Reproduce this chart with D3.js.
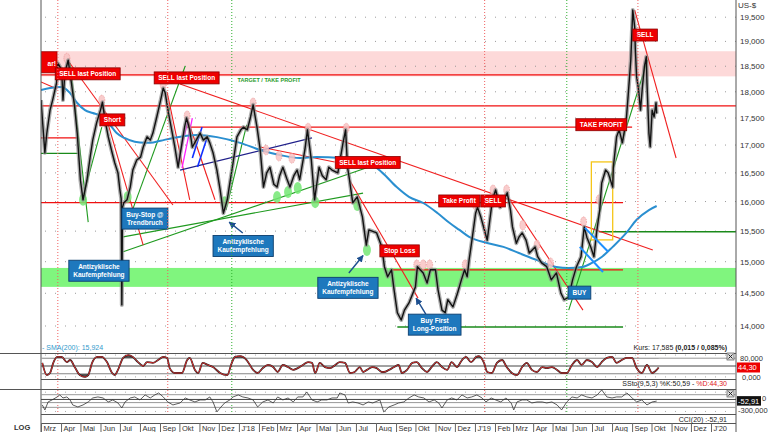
<!DOCTYPE html>
<html><head><meta charset="utf-8">
<script src="https://cdn.jsdelivr.net/npm/d3@7"></script>
<style>body{margin:0;background:#fff;}svg{display:block;font-family:"Liberation Sans",Arial,sans-serif;}</style>
</head><body><svg id="c" width="768" height="432"></svg>
<script>
// ---------- DATA ----------
const priceData = [
["2017-03-01",17840],["2017-03-07",16860],["2017-03-10",17220],["2017-03-15",17650],["2017-03-19",17840],["2017-03-25",18170],["2017-03-27",18560],["2017-04-02",18430],["2017-04-04",17840],["2017-04-07",18370],["2017-04-12",18620],["2017-04-17",18170],["2017-04-22",17710],["2017-04-26",17220],["2017-05-01",16370],["2017-05-05",16030],["2017-05-11",16370],["2017-05-16",16780],["2017-05-20",17090],["2017-05-26",17410],["2017-06-01",17650],["2017-06-04",17800],["2017-06-08",17460],["2017-06-13",17150],["2017-06-19",16860],["2017-06-23",16680],["2017-06-28",16500],["2017-07-01",16200],["2017-07-03",16050],["2017-07-04",14320],["2017-07-05",15900],["2017-07-07",15980],["2017-07-12",16030],["2017-07-17",16250],["2017-07-21",16550],["2017-07-27",16730],["2017-08-02",16780],["2017-08-06",16960],["2017-08-12",17150],["2017-08-17",17090],["2017-08-21",17220],["2017-08-27",17520],["2017-09-02",17840],["2017-09-06",18070],["2017-09-09",17980],["2017-09-14",17600],["2017-09-20",17220],["2017-09-24",16960],["2017-09-29",16600],["2017-10-05",17040],["2017-10-09",17330],["2017-10-12",17500],["2017-10-17",17280],["2017-10-21",16960],["2017-10-27",17090],["2017-11-02",17220],["2017-11-07",17090],["2017-11-13",17150],["2017-11-17",17040],["2017-11-22",16860],["2017-11-28",16550],["2017-12-03",16200],["2017-12-08",15800],["2017-12-14",16030],["2017-12-18",16320],["2017-12-23",16680],["2017-12-29",17150],["2018-01-04",17280],["2018-01-08",17330],["2018-01-14",17280],["2018-01-19",17520],["2018-01-23",17750],["2018-01-29",17330],["2018-02-03",16910],["2018-02-08",16250],["2018-02-13",16500],["2018-02-18",16600],["2018-02-24",16300],["2018-03-01",16250],["2018-03-05",16450],["2018-03-10",16600],["2018-03-16",16400],["2018-03-21",16250],["2018-03-27",16450],["2018-04-01",16550],["2018-04-05",16380],["2018-04-13",16910],["2018-04-17",17280],["2018-04-23",16730],["2018-04-28",16030],["2018-05-05",16600],["2018-05-10",16450],["2018-05-16",16380],["2018-05-20",16600],["2018-05-25",16550],["2018-06-03",16500],["2018-06-11",17040],["2018-06-15",17280],["2018-06-18",16600],["2018-06-21",16380],["2018-06-26",15980],["2018-07-03",16080],["2018-07-11",15740],["2018-07-17",15270],["2018-07-21",15520],["2018-08-02",15470],["2018-08-10",15240],["2018-08-14",14920],["2018-08-19",14760],["2018-08-25",14870],["2018-08-29",14550],["2018-09-03",14200],["2018-09-09",14090],["2018-09-14",14240],["2018-09-21",14350],["2018-10-01",14600],["2018-10-04",14920],["2018-10-13",14820],["2018-10-19",14660],["2018-10-24",14870],["2018-11-01",14870],["2018-11-05",14550],["2018-11-11",14240],["2018-11-16",14200],["2018-11-20",14400],["2018-11-28",14290],["2018-12-05",14500],["2018-12-11",14710],["2018-12-16",14870],["2018-12-20",14760],["2018-12-23",15030],["2018-12-28",15400],["2019-01-02",15800],["2019-01-05",15900],["2019-01-10",15740],["2019-01-20",15350],["2019-01-28",16030],["2019-02-02",16200],["2019-02-09",15900],["2019-02-20",16150],["2019-02-25",15850],["2019-02-28",15570],["2019-03-06",15300],["2019-03-10",15400],["2019-03-15",15470],["2019-03-21",15350],["2019-03-26",15140],["2019-04-04",15240],["2019-04-08",15080],["2019-04-14",14980],["2019-04-22",14920],["2019-04-29",14710],["2019-05-07",14820],["2019-05-14",14500],["2019-05-19",14400],["2019-05-26",14440],["2019-06-01",14710],["2019-06-07",14920],["2019-06-14",15080],["2019-06-19",15570],["2019-06-23",15400],["2019-06-29",15240],["2019-07-04",15080],["2019-07-08",15470],["2019-07-13",15860],["2019-07-16",16320],["2019-07-22",16550],["2019-07-26",16500],["2019-08-02",16250],["2019-08-03",16600],["2019-08-08",17150],["2019-08-12",17280],["2019-08-17",17040],["2019-08-23",17470],["2019-08-26",17940],["2019-08-30",18630],["2019-09-02",19650],["2019-09-05",19300],["2019-09-06",18830],["2019-09-08",18290],["2019-09-11",18040],["2019-09-14",17650],["2019-09-17",18100],["2019-09-20",18490],["2019-09-23",18690],["2019-09-24",18170],["2019-09-27",17220],["2019-09-29",16970],["2019-10-02",17650],["2019-10-05",17520],["2019-10-08",17790],["2019-10-09",17585]
];
const smaData = [
["2017-03-01",18035],["2017-03-15",18075],["2017-04-02",18095],["2017-04-15",17975],["2017-04-26",17785],["2017-05-08",17650],["2017-05-20",17595],["2017-06-01",17540],["2017-06-16",17370],["2017-06-26",17220],["2017-07-08",17130],["2017-07-24",17060],["2017-08-09",17040],["2017-08-17",17040],["2017-09-02",17080],["2017-09-21",17130],["2017-10-28",17185],["2017-11-28",17145],["2018-01-03",17040],["2018-02-03",16910],["2018-03-05",16820],["2018-04-05",16765],["2018-05-01",16785],["2018-06-07",16765],["2018-06-21",16730],["2018-07-21",16675],["2018-08-11",16500],["2018-09-02",16250],["2018-09-21",16080],["2018-10-13",15975],["2018-11-04",15805],["2018-11-23",15635],["2018-12-08",15520],["2018-12-23",15405],["2019-01-20",15305],["2019-02-14",15240],["2019-03-10",15140],["2019-04-07",15025],["2019-05-07",14915],["2019-05-26",14900],["2019-06-16",14915],["2019-07-01",14980],["2019-07-16",15075],["2019-08-02",15240],["2019-08-23",15470],["2019-09-08",15690],["2019-09-27",15855],["2019-10-09",15924]
];
const oscStart = "2017-03-01";
const stochDays = [2,9,14,19,25,32,40,45,53,60,68,73,79,87,94,102,110,114,119,127,135,142,150,158,164,173,181,189,195,199,207,218,226,230,238,243,250,258,266,277,288,295,300,308,318,328,335,343,351,359,366,374,382,390,397,405,413,419,424,431,439,447,455,462,470,478,485,493,498,504,512,519,527,530,538,546,553,558,566,574,581,589,597,604,612,620,628,635,643,651,657,665,673,677,685,690,697,705,713,720,728,736,744,751,759,767,775,782,790,798,805,813,821,829,836,844,852,860,867,875,883,890,898,906,914,921,929,937,945,952,955];
const stochVals = [62,15,23,62,85,85,65,73,42,15,8,15,62,85,85,65,23,15,35,81,92,85,65,50,65,62,73,85,81,42,23,23,73,81,35,23,62,54,46,23,15,62,85,88,73,35,23,42,54,46,27,54,46,35,42,54,65,62,23,62,46,42,54,65,62,23,27,46,27,35,46,42,27,27,35,46,54,23,35,62,65,42,27,46,65,46,35,65,46,73,85,65,85,88,62,27,23,62,73,46,23,15,46,62,35,27,46,42,46,35,23,23,54,73,54,73,65,46,65,81,85,62,73,81,81,42,23,54,23,35,44];
const cciDays = [2,6,11,17,25,29,34,40,45,49,57,65,73,80,88,96,104,111,119,125,130,138,145,153,161,169,176,182,189,196,204,215,223,230,238,246,254,261,266,272,277,284,292,297,305,312,320,328,335,343,351,359,366,374,382,390,397,405,411,419,427,434,442,450,458,462,470,475,482,490,498,506,513,524,529,530,538,546,553,561,569,577,584,592,600,608,615,620,628,635,643,651,659,666,674,682,688,696,703,711,719,727,731,736,744,751,759,767,775,782,790,798,805,813,821,829,836,844,852,860,867,875,883,890,898,906,914,921,929,937,945,952];
const cciVals = [-174,-332,-79,-16,79,142,47,79,-16,-174,-237,-174,-79,47,79,47,-79,-16,-111,-269,-79,47,79,-16,142,47,142,205,79,-79,-174,-111,47,-16,-79,-16,-16,79,-79,-395,-269,-111,-16,79,142,79,47,-16,-237,-79,-16,-111,79,-16,47,-79,79,79,237,-16,-79,-16,-16,47,47,205,142,-111,-79,-111,-174,-79,-111,-16,-332,-395,-237,-174,-111,-79,47,142,79,47,-79,-16,-111,-269,-16,47,-16,142,47,79,142,47,-79,47,-16,-79,47,-111,-332,-79,-16,-16,-111,-79,-79,-111,-79,-174,-332,-79,79,47,142,79,47,142,300,79,47,79,79,205,47,-79,-16,-174,-79,-53];

const priceTicks = [14000,14500,15000,15500,16000,16500,17000,17500,18000,18500,19000,19500];
const monthLabels = ["Mrz","Apr","Mai","Jun","Jul","Aug","Sep","Okt","Nov","Dez","J'18","Feb","Mrz","Apr","Mai","Jun","Jul","Aug","Sep","Okt","Nov","Dez","J'19","Feb","Mrz","Apr","Mai","Jun","Jul","Aug","Sep","Okt","Nov","Dez","J'20"];

const pinkZone = [18300,18800];
const greenZone = [14600,14900];
const redVertical = ["2017-03-27","2017-09-13","2019-01-16","2019-09-10"];
const greenVertical = ["2017-12-21","2019-05-23"];
const redHoriz = [["2017-03-01","2019-09-13",18330],["2017-03-01","2020-02-15",17730],["2017-10-13","2019-09-01",17330],["2017-03-01","2017-04-27",17130],["2017-03-01","2019-08-18",15980],["2018-08-25","2019-08-18",14870]];
const greenHoriz = [["2017-03-01","2017-04-27",16850],["2018-09-03","2019-08-18",13985],["2019-07-12","2020-02-15",15490]];
const redTrend = [["2017-03-01",18190,"2017-03-26",18055],["2017-04-11",18625,"2017-09-21",15940],["2017-06-03",17800,"2017-08-06",15270],["2017-09-12",17995,"2017-10-17",16030],["2017-10-13",17500,"2017-11-25",16030],["2017-10-02",18150,"2019-10-03",15190],["2018-02-03",16965,"2018-05-29",16695],["2018-06-21",16375,"2018-10-05",14425],["2019-02-19",16115,"2019-06-17",14240],["2019-09-05",19650,"2019-11-08",16765]];
const greenTrend = [["2017-04-15",18565,"2017-05-13",15650],["2017-05-05",16080,"2017-06-03",17330],["2017-07-12",15605,"2017-10-10",18505],["2017-07-06",15405,"2018-07-12",16145],["2017-07-06",15160,"2018-07-30",16640],["2017-12-12",15855,"2018-01-13",17370],["2019-05-26",14240,"2019-09-25",18625]];
const navyTrend = [["2017-10-02",16550,"2018-04-24",17130]];
const magentaTrend = [["2017-09-29",16675,"2017-10-15",17500],["2017-10-05",16585,"2017-10-21",17500]];
const blueTrend = [["2017-10-21",16765,"2017-11-05",17330],["2017-10-29",16605,"2017-11-13",17145]];
const lightBlueTrend = [["2019-06-20",15555,"2019-07-26",15160],["2019-06-12",15240,"2019-07-18",14835]];
const yellowBox = [["2019-06-30",16695,"2019-08-02",15355]];
const highMarks = [["2017-04-10",18660],["2017-06-03",17840],["2017-09-06",18130],["2017-10-13",17540],["2018-01-23",17785],["2018-02-12",16910],["2018-03-04",16800],["2018-03-24",16760],["2018-04-18",17310],["2018-06-16",17310],["2018-10-03",14950],["2018-10-13",14950],["2018-10-23",14950],["2018-12-17",14950],["2019-01-02",15940],["2019-01-29",16200],["2019-02-19",16200],["2019-03-16",15600],["2019-04-07",15270],["2019-04-28",14980],["2019-06-18",15655],["2019-07-12",16030]];
const lowMarks = [["2017-05-05",16030],["2017-07-13",16080],["2017-12-10",15990],["2018-03-01",16080],["2018-03-18",16165],["2018-04-02",16235],["2018-04-29",15990],["2018-07-03",15940],["2018-07-18",15190]];
const redLabels = [["SELL last Position","2017-03-23",18350],["SELL last Position","2017-08-23",18270],["Short","2017-05-31",17465],["SELL last Position","2018-05-30",16685],["Take Profit","2018-11-06",16010],["SELL","2019-01-10",16010],["Stop Loss","2018-08-07",15175],["TAKE PROFIT","2019-06-06",17375],["SELL","2019-09-02",19130]];
const blueLabels = [[["Buy-Stop @","Trendbruch"],"2017-07-04",15710],[["Antizyklische","Kaufempfehlung"],"2017-04-13",14855],[["Antizyklische","Kaufempfehlung"],"2017-11-22",15255],[["Antizyklische","Kaufempfehlung"],"2018-05-03",14585],[["Buy First","Long-Position"],"2018-09-20",14020],[["BUY"],"2019-05-25",14510]];
const arrows = [["2018-01-07",15470,"2017-12-17",15650],["2018-06-20",14820,"2018-07-12",15100],["2018-10-17",14180,"2018-10-02",14425]];

// ---------- SCALES ----------
const parse = d3.timeParse("%Y-%m-%d");
const start = parse(oscStart);
const x = d3.scaleTime().domain([parse("2017-03-01"), parse("2020-01-01")]).range([41, 711]);
const y = d3.scaleLog().domain([13600, 19863]).range([353, 0]);
const yS = d3.scaleLinear().domain([0, 100]).range([379, 353]);
const yC = d3.scaleLinear().domain([-460, 330]).range([414, 389]);
const X = d => x(parse(d));
const svg = d3.select("#c");
const L = 41, R = 736;

const defs = svg.append("defs");
defs.append("clipPath").attr("id","mc").append("rect").attr("x",L).attr("y",0).attr("width",R-L).attr("height",353);
defs.append("clipPath").attr("id","sc").append("rect").attr("x",L).attr("y",353).attr("width",R-L).attr("height",26);
defs.append("clipPath").attr("id","cc").append("rect").attr("x",L).attr("y",389).attr("width",R-L).attr("height",25);
defs.append("clipPath").attr("id","above").append("rect").attr("x",L).attr("y",353).attr("width",R-L).attr("height",yS(80)-353);
defs.append("clipPath").attr("id","below").append("rect").attr("x",L).attr("y",yS(20)).attr("width",R-L).attr("height",379-yS(20));
const mk = defs.append("marker").attr("id","ah").attr("viewBox","0 0 10 10").attr("refX",9).attr("refY",5).attr("markerWidth",5).attr("markerHeight",5).attr("orient","auto");
mk.append("path").attr("d","M0,0L10,5L0,10z").attr("fill","#1d4f8f");

const main = svg.append("g").attr("clip-path","url(#mc)");

// zones
main.append("rect").attr("x",L).attr("width",R-L).attr("y",y(pinkZone[1])).attr("height",y(pinkZone[0])-y(pinkZone[1])).attr("fill","#fdd9d9");
main.append("rect").attr("x",L).attr("width",R-L).attr("y",y(greenZone[1])).attr("height",y(greenZone[0])-y(greenZone[1])).attr("fill","#80f57e");

// grid dots
main.selectAll(".gd").data(priceTicks).join("line").attr("x1",L+4).attr("x2",R).attr("y1",d=>y(d)).attr("y2",d=>y(d)).attr("stroke","#9a9a9a").attr("stroke-width",1).attr("stroke-dasharray","1,9");

// vertical dotted lines (through all panels)
const vg = svg.append("g");
vg.selectAll(".rv").data(redVertical).join("line").attr("x1",X).attr("x2",X).attr("y1",0).attr("y2",414).attr("stroke","#f06060").attr("stroke-dasharray","1,2").attr("stroke-width",1);
vg.selectAll(".gv").data(greenVertical).join("line").attr("x1",X).attr("x2",X).attr("y1",0).attr("y2",414).attr("stroke","#30b030").attr("stroke-dasharray","1,2").attr("stroke-width",1);

// horizontal lines
main.selectAll(".rh").data(redHoriz).join("line").attr("x1",d=>X(d[0])).attr("x2",d=>X(d[1])).attr("y1",d=>y(d[2])).attr("y2",d=>y(d[2])).attr("stroke","#f01010").attr("stroke-width",1.3);
main.selectAll(".gh").data(greenHoriz).join("line").attr("x1",d=>X(d[0])).attr("x2",d=>X(d[1])).attr("y1",d=>y(d[2])).attr("y2",d=>y(d[2])).attr("stroke","#1a8a1a").attr("stroke-width",1.3);

function seg(data, color, w){
  main.append("g").selectAll("line").data(data).join("line")
   .attr("x1",d=>X(d[0])).attr("y1",d=>y(d[1])).attr("x2",d=>X(d[2])).attr("y2",d=>y(d[3]))
   .attr("stroke",color).attr("stroke-width",w);
}
seg(greenTrend,"#1f9a1f",1.1);
seg(redTrend,"#f02020",1.1);
seg(navyTrend,"#20208a",1.2);
seg(magentaTrend,"#ff20ff",1.3);
seg(blueTrend,"#1030ff",1.6);

// yellow box
main.selectAll(".yb").data(yellowBox).join("rect").attr("x",d=>X(d[0])).attr("y",d=>y(d[1])).attr("width",d=>X(d[2])-X(d[0])).attr("height",d=>y(d[3])-y(d[1])).attr("fill","none").attr("stroke","#f5c518").attr("stroke-width",1.3);

// SMA
const lineP = d3.line().x(d=>X(d[0])).y(d=>y(d[1])).curve(d3.curveMonotoneX);
main.append("path").datum(smaData).attr("d",lineP).attr("fill","none").attr("stroke","#2a8fd0").attr("stroke-width",2);

// markers (under price)
main.selectAll(".hm").data(highMarks).join("ellipse").attr("cx",d=>X(d[0])).attr("cy",d=>y(d[1])).attr("rx",3).attr("ry",5).attr("fill","#f8c4c4").attr("opacity",0.85).attr("stroke","#e67c7c").attr("stroke-dasharray","1,1").attr("stroke-width",0.7);
main.selectAll(".lm").data(lowMarks).join("ellipse").attr("cx",d=>X(d[0])).attr("cy",d=>y(d[1])).attr("rx",4).attr("ry",6).attr("fill","#74e874").attr("opacity",0.85);

// price
const lineR = d3.line().x(d=>X(d[0])).y(d=>y(d[1]));
main.append("path").datum(priceData).attr("d",lineR).attr("fill","none").attr("stroke","#8a8a8a").attr("stroke-width",4).attr("stroke-linejoin","round").attr("opacity",0.7);
main.append("path").datum(priceData).attr("d",lineR).attr("fill","none").attr("stroke","#111").attr("stroke-width",1.4).attr("stroke-linejoin","round");

seg(lightBlueTrend,"#1e90ff",2);

// target text
main.append("text").attr("x",X("2017-12-30")).attr("y",y(18230)+2).attr("font-size",5.5).attr("font-weight","bold").attr("fill","#2a9a2a").text("TARGET / TAKE PROFIT");

// arrows
main.selectAll(".ar").data(arrows).join("line").attr("x1",d=>X(d[0])).attr("y1",d=>y(d[1])).attr("x2",d=>X(d[2])).attr("y2",d=>y(d[3])).attr("stroke","#1d4f8f").attr("stroke-width",1.4).attr("marker-end","url(#ah)");

// "ar!" clipped label
main.append("rect").attr("x",L-20).attr("y",y(18800)+0.5).attr("width",36).attr("height",21).attr("fill","#ee0000").attr("stroke","#900").attr("stroke-width",0.8);
main.append("text").attr("x",L+15).attr("y",y(18550)+2.5).attr("text-anchor","end").attr("font-size",6.6).attr("font-weight","bold").attr("fill","#fff").text("ar!");

// red labels
const lab = main.append("g");
redLabels.forEach(([t,d,p])=>{
  const gx = X(d), gy = y(p);
  const g = lab.append("g");
  const rect = g.append("rect");
  const tx = g.append("text").attr("x",gx+4).attr("y",gy+2.3).attr("font-size",6.5).attr("font-weight","bold").attr("fill","#fff").text(t);
  const w = tx.node().getComputedTextLength()+8;
  rect.attr("x",gx).attr("y",gy-6).attr("width",w).attr("height",12).attr("fill","#ee0000").attr("stroke","#8a0000").attr("stroke-width",0.8);
});
// blue labels
blueLabels.forEach(([lines,d,p])=>{
  const gx = X(d), gy = y(p);
  const g = lab.append("g");
  const rect = g.append("rect");
  const h = lines.length*8+5;
  let mw = 0;
  lines.forEach((t,i)=>{
    const tx = g.append("text").attr("y",gy-h/2+8.5+i*8).attr("font-size",6.5).attr("font-weight","bold").attr("fill","#fff").attr("text-anchor","middle").text(t);
    mw = Math.max(mw, tx.node().getComputedTextLength());
  });
  const w = mw+9;
  g.selectAll("text").attr("x",gx+w/2);
  rect.attr("x",gx).attr("y",gy-h/2).attr("width",w).attr("height",h).attr("fill","#1e78bd").attr("stroke","#0c3e6e").attr("stroke-width",0.9);
});

// ---------- FRAME ----------
const fr = svg.append("g").attr("stroke","#555").attr("stroke-width",1);
fr.append("line").attr("x1",L).attr("x2",L).attr("y1",0).attr("y2",432);
fr.append("line").attr("x1",R).attr("x2",R).attr("y1",0).attr("y2",432);
[353,389].forEach(v=>fr.append("line").attr("x1",0).attr("x2",R).attr("y1",v+0.5).attr("y2",v+0.5));
[379,414,423].forEach(v=>fr.append("line").attr("x1",L).attr("x2",R).attr("y1",v+0.5).attr("y2",v+0.5));

// price axis
const ax = svg.append("g").attr("font-size",8).attr("fill","#333");
ax.selectAll("text").data(priceTicks).join("text").attr("x",740).attr("y",d=>y(d)+3).text(d3.format(","));
ax.append("text").attr("x",738).attr("y",8).text("US-$");

// month axis
const months = d3.timeMonth.range(parse("2017-03-01"), parse("2020-01-02"));
const mx = svg.append("g");
mx.selectAll("line").data(months).join("line").attr("x1",d=>x(d)+0.5).attr("x2",d=>x(d)+0.5).attr("y1",423).attr("y2",432).attr("stroke","#666");
mx.selectAll("text").data(months).join("text").attr("x",d=>x(d)+2.5).attr("y",431).attr("font-size",7.5).attr("fill","#333").text((d,i)=>monthLabels[i]);
svg.append("text").attr("x",14).attr("y",430).attr("font-size",7.5).attr("font-weight","bold").attr("fill","#333").text("LOG");

// legends
svg.append("text").attr("x",42).attr("y",350).attr("font-size",7).attr("fill","#3399cc").text("- SMA(200): 15,924");
const kt = svg.append("text").attr("x",727).attr("y",350).attr("font-size",7).attr("fill","#222").attr("text-anchor","end");
kt.append("tspan").text("Kurs: 17,585 ");
kt.append("tspan").attr("font-weight","bold").text("(0,015 / 0,085%)");

// ---------- STOCH PANEL ----------
const sData = stochDays.map((d,i)=>[d3.timeDay.offset(start,d), stochVals[i]]);
const sp = svg.append("g");
sp.append("line").attr("x1",L).attr("x2",R).attr("y1",yS(80)).attr("y2",yS(80)).attr("stroke","#999");
sp.append("line").attr("x1",L).attr("x2",R).attr("y1",yS(50)).attr("y2",yS(50)).attr("stroke","#444");
sp.append("line").attr("x1",L).attr("x2",R).attr("y1",yS(20)).attr("y2",yS(20)).attr("stroke","#999");
[92,8].forEach(v=>sp.append("line").attr("x1",L+4).attr("x2",R).attr("y1",yS(v)).attr("y2",yS(v)).attr("stroke","#aaa").attr("stroke-dasharray","1,9"));
const sLine = d3.line().x(d=>x(d[0])).y(d=>yS(d[1])).curve(d3.curveMonotoneX);
sp.append("path").datum(sData).attr("clip-path","url(#above)").attr("fill","#555").attr("d",d3.area().x(d=>x(d[0])).y0(yS(80)).y1(d=>yS(d[1])).curve(d3.curveMonotoneX));
sp.append("path").datum(sData).attr("clip-path","url(#below)").attr("fill","#555").attr("d",d3.area().x(d=>x(d[0])).y0(yS(20)).y1(d=>yS(d[1])).curve(d3.curveMonotoneX));
const sg = sp.append("g").attr("clip-path","url(#sc)");
sg.append("path").datum(sData).attr("d",sLine).attr("fill","none").attr("stroke","#222").attr("stroke-width",1.8);
sg.append("path").datum(sData).attr("d",sLine).attr("fill","none").attr("stroke","#e03030").attr("stroke-width",1);
const sl = svg.append("g").attr("font-size",7.5).attr("fill","#333");
sl.append("text").attr("x",740).attr("y",yS(80)+3).text("80,000");
sl.append("text").attr("x",742).attr("y",yS(0)+1).text("0,000");
sl.append("rect").attr("x",737).attr("y",yS(44.3)-5).attr("width",23).attr("height",10).attr("fill","#ee0000");
sl.append("text").attr("x",738).attr("y",yS(44.3)+3).attr("fill","#fff").text("44,30");
const st = svg.append("text").attr("x",727).attr("y",386).attr("font-size",7).attr("fill","#222").attr("text-anchor","end");
st.append("tspan").text("SSto(9,5,3) %K:50,59 - ");
st.append("tspan").attr("fill","#e02020").text("%D:44,30");

// ---------- CCI PANEL ----------
const cData = cciDays.map((d,i)=>[d3.timeDay.offset(start,d), cciVals[i]]);
const cp = svg.append("g");
[[150,"#999"],[0,"#444"],[-100,"#999"],[-250,"#999"]].forEach(([v,c])=>cp.append("line").attr("x1",L).attr("x2",R).attr("y1",yC(v)).attr("y2",yC(v)).attr("stroke",c));
[230,-380].forEach(v=>cp.append("line").attr("x1",L+4).attr("x2",R).attr("y1",yC(v)).attr("y2",yC(v)).attr("stroke","#aaa").attr("stroke-dasharray","1,9"));
cp.append("g").attr("clip-path","url(#cc)").append("path").datum(cData).attr("d",d3.line().x(d=>x(d[0])).y(d=>yC(d[1]))).attr("fill","none").attr("stroke","#333").attr("stroke-width",0.8);
const cl = svg.append("g").attr("font-size",7.5).attr("fill","#333");
cl.append("text").attr("x",762).attr("y",yC(0)+2).text("0");
cl.append("text").attr("x",738).attr("y",yC(-300)+4).text("-300,000");
cl.append("rect").attr("x",737).attr("y",yC(-52.91)-5).attr("width",24).attr("height",9.5).attr("fill","#111");
cl.append("text").attr("x",738).attr("y",yC(-52.91)+2.5).attr("fill","#fff").text("-52,91");
svg.append("text").attr("x",727).attr("y",422).attr("font-size",7).attr("fill","#222").attr("text-anchor","end").text("CCI(20) :-52,91");

// close icons
[352,389].forEach(v=>{
  const g = svg.append("g");
  g.append("rect").attr("x",727).attr("y",v+1).attr("width",7).attr("height",7).attr("fill","#ddd").attr("stroke","#555").attr("stroke-width",0.7);
  g.append("path").attr("d",`M728.5,${v+2.5}L732.5,${v+6.5}M732.5,${v+2.5}L728.5,${v+6.5}`).attr("stroke","#222").attr("stroke-width",1);
});
</script></body></html>
